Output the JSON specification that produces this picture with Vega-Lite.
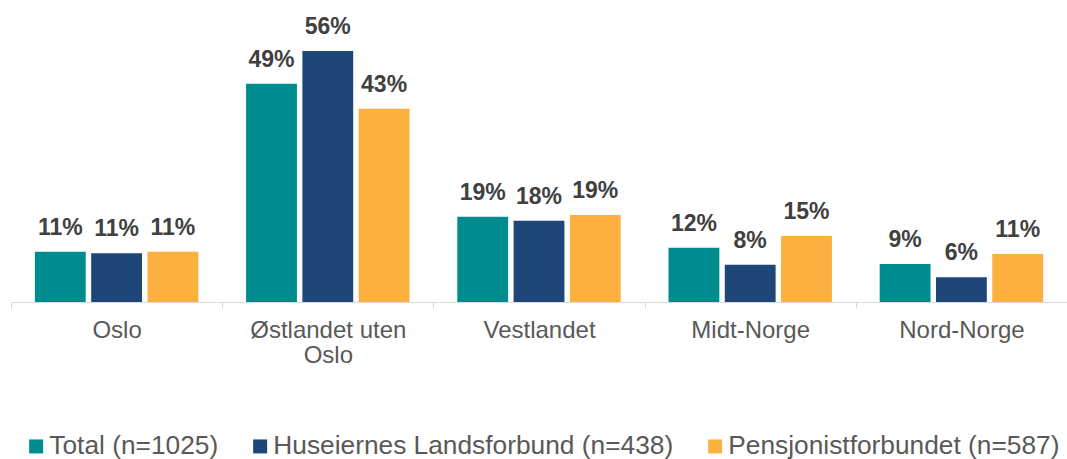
{
  "$schema": "https://vega.github.io/schema/vega-lite/v6.json",
  "autosize": "none",
  "width": 1056,
  "height": 269,
  "padding": {"left": 11, "top": 33, "right": 0, "bottom": 157},
  "background": "white",
  "config": {"view": {"stroke": null}, "font": "Liberation Sans"},
  "data": {"values": [
    {"region": "Oslo", "series": "Total (n=1025)", "value": 11.2, "label": "11%"},
    {"region": "Oslo", "series": "Huseiernes Landsforbund (n=438)", "value": 10.9, "label": "11%"},
    {"region": "Oslo", "series": "Pensjonistforbundet (n=587)", "value": 11.2, "label": "11%"},
    {"region": "Østlandet uten Oslo", "series": "Total (n=1025)", "value": 48.7, "label": "49%"},
    {"region": "Østlandet uten Oslo", "series": "Huseiernes Landsforbund (n=438)", "value": 56.0, "label": "56%"},
    {"region": "Østlandet uten Oslo", "series": "Pensjonistforbundet (n=587)", "value": 43.1, "label": "43%"},
    {"region": "Vestlandet", "series": "Total (n=1025)", "value": 19.0, "label": "19%"},
    {"region": "Vestlandet", "series": "Huseiernes Landsforbund (n=438)", "value": 18.1, "label": "18%"},
    {"region": "Vestlandet", "series": "Pensjonistforbundet (n=587)", "value": 19.4, "label": "19%"},
    {"region": "Midt-Norge", "series": "Total (n=1025)", "value": 12.1, "label": "12%"},
    {"region": "Midt-Norge", "series": "Huseiernes Landsforbund (n=438)", "value": 8.3, "label": "8%"},
    {"region": "Midt-Norge", "series": "Pensjonistforbundet (n=587)", "value": 14.7, "label": "15%"},
    {"region": "Nord-Norge", "series": "Total (n=1025)", "value": 8.5, "label": "9%"},
    {"region": "Nord-Norge", "series": "Huseiernes Landsforbund (n=438)", "value": 5.5, "label": "6%"},
    {"region": "Nord-Norge", "series": "Pensjonistforbundet (n=587)", "value": 10.7, "label": "11%"}
  ]},
  "encoding": {
    "x": {
      "field": "region", "type": "nominal", "sort": null,
      "scale": {"paddingInner": 0, "paddingOuter": 0},
      "axis": {
        "title": null, "labelAngle": 0, "tickBand": "extent",
        "domainColor": "#D9D9D9", "tickColor": "#D9D9D9", "tickSize": 6,
        "labelFontSize": 24, "labelColor": "#595959", "labelPadding": 10,
        "labelLineHeight": 25, "labelBaseline": "top",
        "labelExpr": "datum.value == 'Østlandet uten Oslo' ? ['Østlandet uten', 'Oslo'] : datum.value"
      }
    },
    "xOffset": {
      "field": "series", "type": "nominal", "sort": null,
      "scale": {"paddingInner": 0.097, "paddingOuter": 0.4245}
    },
    "y": {
      "field": "value", "type": "quantitative",
      "scale": {"domain": [0, 60], "nice": false},
      "axis": null
    }
  },
  "layer": [
    {
      "mark": {"type": "bar"},
      "encoding": {
        "color": {
          "field": "series", "type": "nominal", "sort": null,
          "scale": {
            "domain": ["Total (n=1025)", "Huseiernes Landsforbund (n=438)", "Pensjonistforbundet (n=587)"],
            "range": ["#008B8E", "#1F4678", "#FBB040"]
          },
          "legend": {
            "title": null, "orient": "none", "direction": "horizontal",
            "legendX": 12, "legendY": 400, "padding": 0,
            "symbolType": "square", "symbolSize": 196, "symbolStrokeWidth": 0,
            "labelFontSize": 26.3, "labelColor": "#595959", "labelOffset": 0,
            "labelLimit": 0, "columnPadding": 28
          }
        }
      }
    },
    {
      "mark": {"type": "text", "baseline": "alphabetic", "dy": -17, "fontSize": 23, "fontWeight": "bold", "color": "#404040"},
      "encoding": {"text": {"field": "label"}}
    }
  ]
}
